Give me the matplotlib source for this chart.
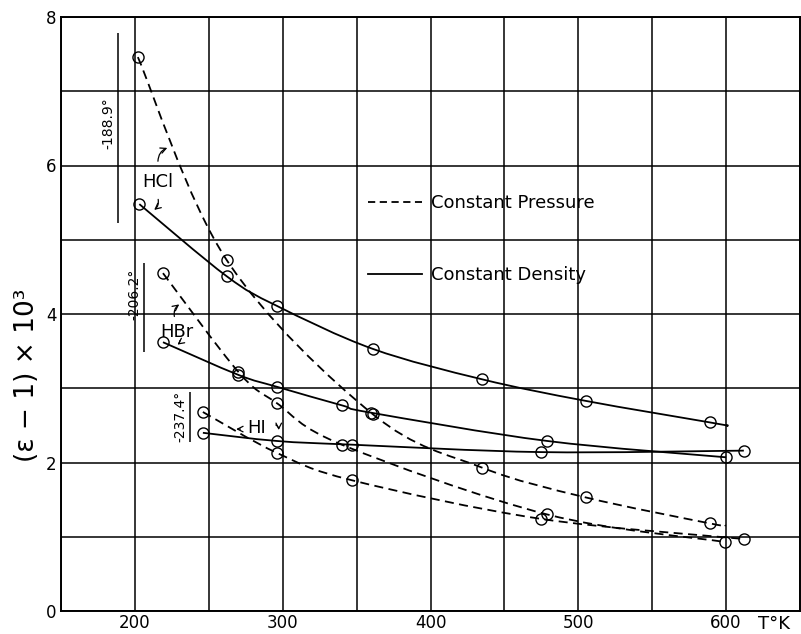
import matplotlib
matplotlib.use("Agg")
import numpy as np
import matplotlib.pyplot as plt
from matplotlib.path import Path
from matplotlib.patches import PathPatch
from matplotlib.lines import Line2D

# ---- data (T in K, (eps-1)*10^3) ----
# HCl
hcl_p_t = [202, 262, 361, 435, 505, 589]
hcl_p_e = [7.46, 4.73, 2.65, 1.93, 1.53, 1.18]
hcl_p_end = [600, 1.15]
hcl_d_t = [203, 262, 296, 361, 435, 505, 589]
hcl_d_e = [5.48, 4.51, 4.11, 3.53, 3.12, 2.83, 2.54]
hcl_d_end = [600, 2.50]

# HBr
hbr_p_t = [219, 270, 296, 340, 479, 599]
hbr_p_e = [4.55, 3.22, 2.80, 2.24, 1.30, 0.93]
hbr_d_t = [219, 270, 296, 340, 360, 479, 600]
hbr_d_e = [3.62, 3.18, 3.02, 2.77, 2.67, 2.29, 2.07]

# HI
hi_p_t = [246, 296, 347, 475, 612]
hi_p_e = [2.68, 2.13, 1.76, 1.24, 0.97]
hi_d_t = [246, 296, 347, 475, 612]
hi_d_e = [2.40, 2.29, 2.24, 2.14, 2.16]

# boiling point marks
bp_temps = [188.9, 206.2, 237.4]
bp_labels = ["-188.9°", "-206.2°", "-237.4°"]
bp_ymin = [5.23, 3.49, 2.28]
bp_ymax = [7.78, 4.69, 2.95]
bp_text_y = [6.57, 4.27, 2.62]

x_ticks = [200, 300, 400, 500, 600]
y_ticks = [0, 2, 4, 6, 8]


def smooth_path(xs, ys):
    # catmull-rom through the points, drawn as cubic bezier segments
    P = np.column_stack([xs, ys]).astype(float)
    n = len(P)
    verts = [P[0]]
    codes = [Path.MOVETO]
    for i in range(n - 1):
        p0 = P[i - 1] if i > 0 else P[i]
        p1 = P[i]
        p2 = P[i + 1]
        p3 = P[i + 2] if i + 2 < n else P[i + 1]
        verts += [p1 + (p2 - p0) / 6, p2 - (p3 - p1) / 6, p2]
        codes += [Path.CURVE4] * 3
    return Path(verts, codes)


DASH = (0, (5, 3))

fig = plt.figure(figsize=(8.01, 6.34), dpi=100)
ax = fig.add_axes([61 / 801, 23 / 634, 739 / 801, 594 / 634])
ax.set_xlim(150, 650)
ax.set_ylim(0, 8)

series = [
    (hcl_p_t, hcl_p_e, hcl_p_end, DASH),
    (hcl_d_t, hcl_d_e, hcl_d_end, "-"),
    (hbr_p_t, hbr_p_e, None, DASH),
    (hbr_d_t, hbr_d_e, None, "-"),
    (hi_p_t, hi_p_e, None, DASH),
    (hi_d_t, hi_d_e, None, "-"),
]
for t, e, end, ls in series:
    ct, ce = list(t), list(e)
    if end is not None:
        ct.append(end[0])
        ce.append(end[1])
    ax.add_patch(PathPatch(smooth_path(ct, ce), fill=False, ec="black",
                           lw=1.3, ls=ls, zorder=3))
    ax.plot(t, e, ls="none", marker="o", ms=8, mfc="none", mec="black",
            mew=1.0, zorder=4)

# grid
ax.set_xticks(x_ticks)
ax.set_xticks(np.arange(150, 651, 50), minor=True)
ax.set_yticks(y_ticks)
ax.set_yticks(np.arange(0, 9, 1), minor=True)
ax.grid(True, which="both", color="black", lw=1.1)
ax.tick_params(which="both", length=0)
ax.tick_params(axis="x", labelsize=12, pad=2)
ax.tick_params(axis="y", labelsize=12, pad=3)
for s in ax.spines.values():
    s.set_linewidth(1.4)

# boiling points
ax.vlines(bp_temps, bp_ymin, bp_ymax, color="black", lw=1.1)
for t, lab, y in zip(bp_temps, bp_labels, bp_text_y):
    ax.annotate(lab, xy=(t, y), xytext=(-2, 0), textcoords="offset points",
                rotation=90, ha="right", va="center", fontsize=10)

# gas labels with arrows
arw = dict(arrowstyle="->", color="black", lw=0.9)
ax.text(215.6, 5.78, "HCl", fontsize=13, ha="center", va="center")
ax.annotate("", xy=(223.7, 6.25), xytext=(215.6, 6.02),
            arrowprops=dict(arw, connectionstyle="arc3,rad=-0.4"))
ax.annotate("", xy=(211.5, 5.38), xytext=(215.3, 5.58),
            arrowprops=dict(arw, connectionstyle="arc3,rad=-0.4"))

ax.text(228.4, 3.76, "HBr", fontsize=13, ha="center", va="center")
ax.annotate("", xy=(231.6, 4.15), xytext=(227.1, 3.93),
            arrowprops=dict(arw, connectionstyle="arc3,rad=-0.4"))
ax.annotate("", xy=(227.1, 3.57), xytext=(230.5, 3.68),
            arrowprops=dict(arw, connectionstyle="arc3,rad=-0.4"))

ax.text(282.4, 2.47, "HI", fontsize=13, ha="center", va="center")
ax.annotate("", xy=(266.6, 2.45), xytext=(273.3, 2.45),
            arrowprops=dict(arw))
ax.annotate("", xy=(297.0, 2.40), xytext=(293.6, 2.52),
            arrowprops=dict(arw, connectionstyle="arc3,rad=-0.5"))

# legend
handles = [Line2D([], [], color="black", lw=1.3, ls=(0, (4, 2.5))),
           Line2D([], [], color="black", lw=1.3, ls="-")]
ax.legend(handles, ["Constant Pressure", "Constant Density"], loc="center left",
          bbox_to_anchor=(0.405, 0.626), frameon=False, fontsize=13,
          handlelength=3.0, handletextpad=0.5, labelspacing=3.0,
          borderaxespad=0)

fig.text(774 / 801, 1 - 624 / 634, "T°K", fontsize=13, ha="center", va="center")
fig.text(27 / 801, 1 - 375 / 634, "(ε − 1) × 10³", fontsize=19, rotation=90,
         ha="center", va="center")

fig.savefig("out.png", dpi=100)
